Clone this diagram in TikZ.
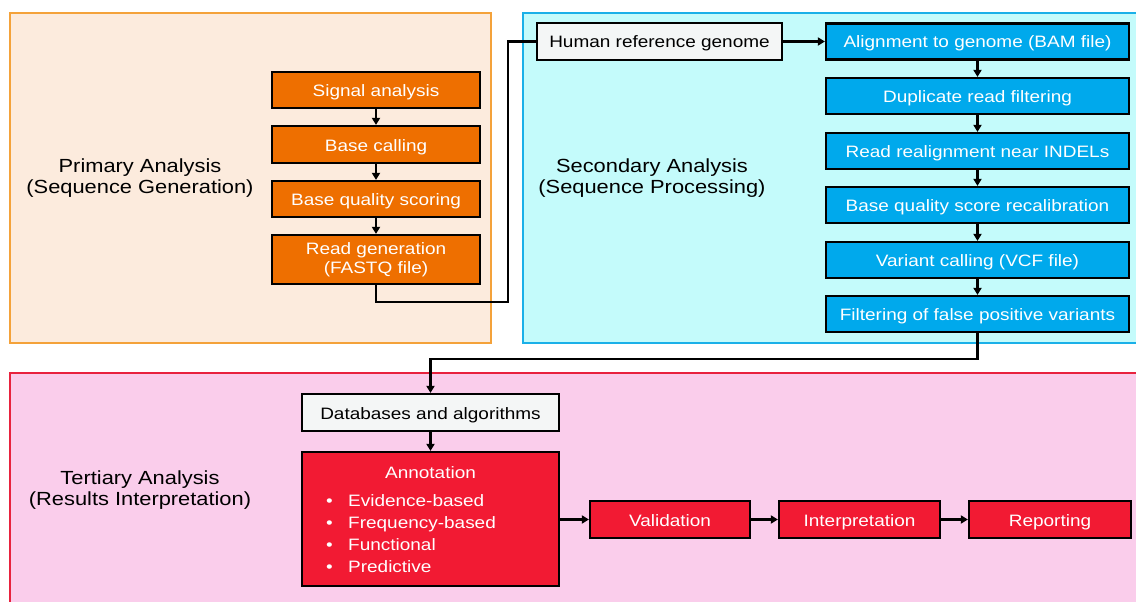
\documentclass[tikz,border=0pt]{standalone}
\usepackage{fontspec}
\setmainfont[FakeStretch=1.15]{Liberation Sans}
\usetikzlibrary{arrows.meta}
\definecolor{peachfill}{RGB}{252,235,221}
\definecolor{peachline}{RGB}{244,162,58}
\definecolor{orangebox}{RGB}{238,111,0}
\definecolor{cyanfill}{RGB}{196,251,251}
\definecolor{cyanline}{RGB}{26,176,232}
\definecolor{bluebox}{RGB}{0,169,236}
\definecolor{pinkfill}{RGB}{250,205,235}
\definecolor{redline}{RGB}{232,34,62}
\definecolor{redbox}{RGB}{242,26,51}
\definecolor{whitebox}{RGB}{244,246,246}
\tikzset{
  boxtext/.style={font=\fontsize{16.5}{18.5}\selectfont},
  oneline/.style={text height=13pt, text depth=0pt},
  procbox/.style={draw=black, line width=2.2pt, inner sep=0pt, align=center, boxtext},
  orangestep/.style={procbox, fill=orangebox, text=white, minimum width=208pt},
  bluestep/.style={procbox, oneline, fill=bluebox, text=white, minimum width=303pt, minimum height=36pt},
  redstep/.style={procbox, oneline, fill=redbox, text=white, minimum height=37pt},
  whitestep/.style={procbox, oneline, fill=whitebox, text=black, minimum height=37pt},
  stagelabel/.style={align=center, font=\fontsize{19}{20.5}\selectfont, text=black},
  conn/.style={line width=2.4pt, draw=black},
  arr/.style={conn, -{Triangle[length=7pt,width=8pt]}},
}
\begin{document}
\begin{tikzpicture}[x=1pt,y=-1pt]
\useasboundingbox (0,0) rectangle (1136,602);
\clip (0,0) rectangle (1136,602);
% stage containers
\draw[draw=peachline, fill=peachfill, line width=2pt] (10,13) rectangle (491,343);
\draw[draw=cyanline, fill=cyanfill, line width=2pt] (523,13) rectangle (1145,343);
\draw[draw=redline, fill=pinkfill, line width=2pt] (10,373) rectangle (1145,612);
% stage labels
\node[stagelabel] (lprim) at (140,178) {Primary Analysis\\(Sequence Generation)};
\node[stagelabel] (lsec) at (652,178) {Secondary Analysis\\(Sequence Processing)};
\node[stagelabel] (lter) at (140,490) {Tertiary Analysis\\(Results Interpretation)};
% primary steps
\node[orangestep, oneline, minimum height=36pt] (sig) at (376,90) {Signal analysis};
\node[orangestep, oneline, minimum height=37pt] (bc) at (376,144.5) {Base calling};
\node[orangestep, oneline, minimum height=36pt] (bqs) at (376,199) {Base quality scoring};
\node[orangestep, minimum height=49pt] (rg) at (376,259.5) {Read generation\\(FASTQ file)};
% secondary steps
\node[whitestep, minimum width=245pt] (hum) at (659.5,41.5) {Human reference genome};
\node[bluestep] (aln) at (977.5,41.5) {Alignment to genome (BAM file)};
\node[bluestep] (dup) at (977.5,96) {Duplicate read filtering};
\node[bluestep] (rr) at (977.5,151) {Read realignment near INDELs};
\node[bluestep] (bqsr) at (977.5,205) {Base quality score recalibration};
\node[bluestep] (vc) at (977.5,260) {Variant calling (VCF file)};
\node[bluestep] (filt) at (977.5,314) {Filtering of false positive variants};
% tertiary steps
\node[whitestep, minimum width=257pt] (db) at (430.5,412.5) {Databases and algorithms};
\node[procbox, fill=redbox, minimum width=257pt, minimum height=134pt] (ann) at (430.5,519) {};
\node[boxtext, text=white, inner sep=0pt] (anntitle) at (430.5,473) {Annotation};
\node[boxtext, text=white, inner sep=0pt, align=left, anchor=west,
      font=\fontsize{16.5}{22}\selectfont] (annlist) at (326,534)
  {\makebox[22pt][l]{•}Evidence-based\\
   \makebox[22pt][l]{•}Frequency-based\\
   \makebox[22pt][l]{•}Functional\\
   \makebox[22pt][l]{•}Predictive};
\node[redstep, minimum width=160pt] (val) at (670,519.5) {Validation};
\node[redstep, minimum width=161pt] (int) at (859.5,519.5) {Interpretation};
\node[redstep, minimum width=162pt] (rep) at (1050,519.5) {Reporting};
% connectors
\draw[arr] (sig) -- (bc);
\draw[arr] (bc) -- (bqs);
\draw[arr] (bqs) -- (rg);
\coordinate (c1) at (508,302);
\draw[conn] (rg.south) |- (c1) |- (hum.west);
\draw[arr] (hum) -- (aln);
\draw[arr] (aln) -- (dup);
\draw[arr] (dup) -- (rr);
\draw[arr] (rr) -- (bqsr);
\draw[arr] (bqsr) -- (vc);
\draw[arr] (vc) -- (filt);
\coordinate (c2) at (430.5,359);
\draw[arr] (filt.south) |- (c2) -- (db.north);
\draw[arr] (db) -- (ann);
\draw[arr] (ann.east |- val.west) -- (val.west);
\draw[arr] (val) -- (int);
\draw[arr] (int) -- (rep);
\end{tikzpicture}
\end{document}
